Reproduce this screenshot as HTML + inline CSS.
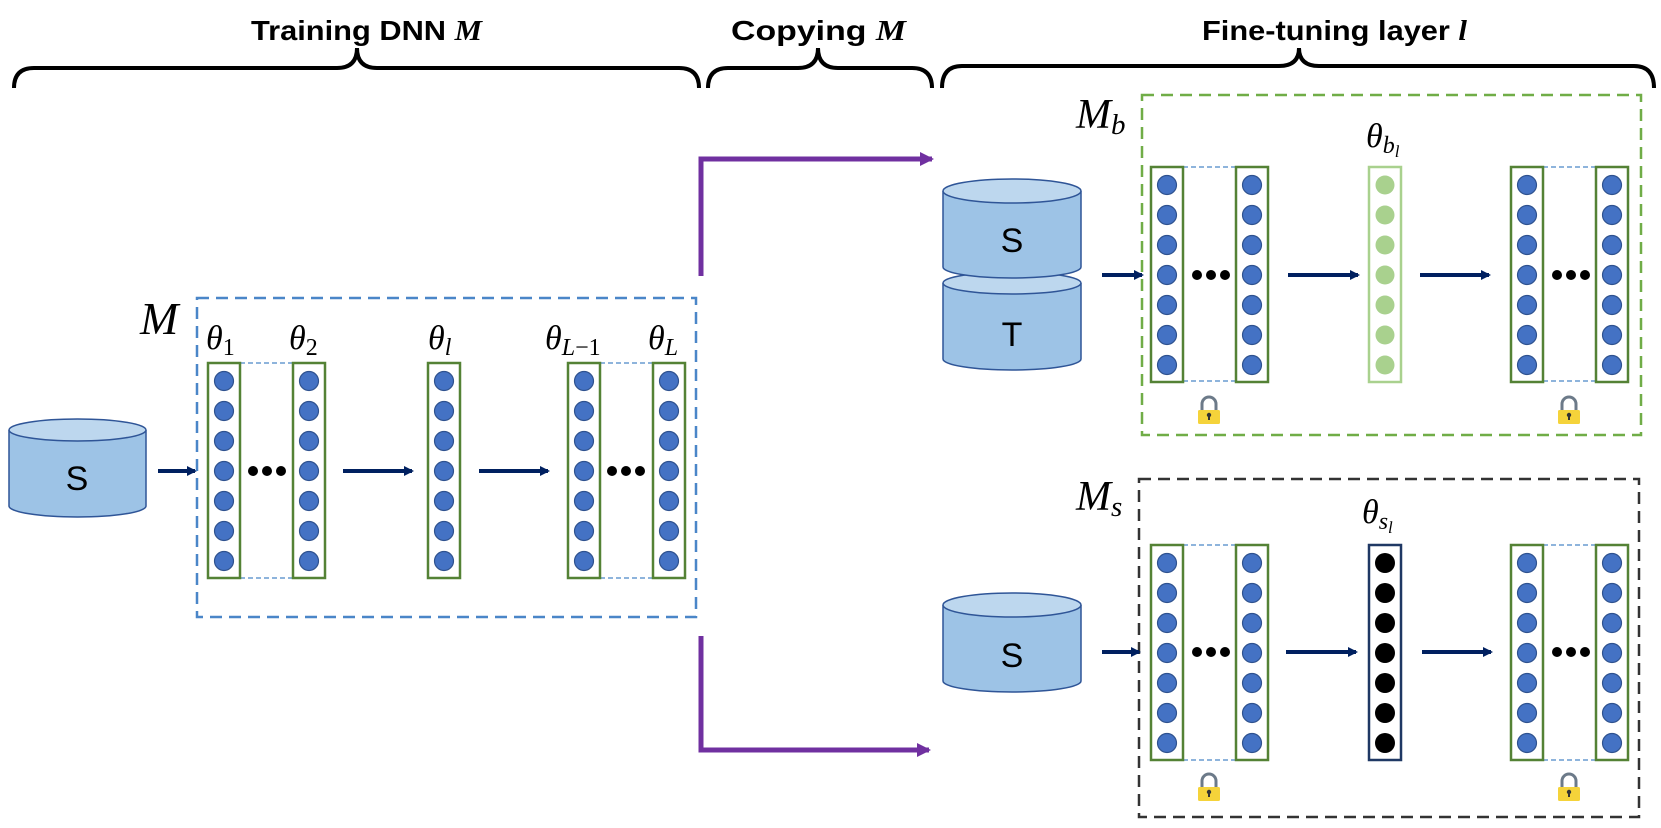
<!DOCTYPE html>
<html><head><meta charset="utf-8"><style>
html,body{margin:0;padding:0;background:#fff;}
svg{display:block;}
.t{font-family:"Liberation Sans",sans-serif;font-weight:bold;font-size:28px;fill:#000;}
.m{font-family:"Liberation Serif",serif;font-style:italic;fill:#000;}
.u{font-style:normal;}
.cyl{font-family:"Liberation Sans",sans-serif;font-size:34px;fill:#000;}
</style></head><body>
<svg width="1661" height="828" viewBox="0 0 1661 828" xmlns="http://www.w3.org/2000/svg">
<defs>
<g id="b7" fill="#4472C4" stroke="#2F528F" stroke-width="1.2">
<circle cx="16" cy="18" r="9.5"/><circle cx="16" cy="48" r="9.5"/><circle cx="16" cy="78" r="9.5"/><circle cx="16" cy="108" r="9.5"/><circle cx="16" cy="138" r="9.5"/><circle cx="16" cy="168" r="9.5"/><circle cx="16" cy="198" r="9.5"/>
</g>
<g id="g7" fill="#A9D18E">
<circle cx="16" cy="18" r="9.5"/><circle cx="16" cy="48" r="9.5"/><circle cx="16" cy="78" r="9.5"/><circle cx="16" cy="108" r="9.5"/><circle cx="16" cy="138" r="9.5"/><circle cx="16" cy="168" r="9.5"/><circle cx="16" cy="198" r="9.5"/>
</g>
<g id="k7" fill="#000">
<circle cx="16" cy="18" r="10"/><circle cx="16" cy="48" r="10"/><circle cx="16" cy="78" r="10"/><circle cx="16" cy="108" r="10"/><circle cx="16" cy="138" r="10"/><circle cx="16" cy="168" r="10"/><circle cx="16" cy="198" r="10"/>
</g>
<g id="col">
<rect x="0" y="0" width="32" height="215" fill="#fff" stroke="#548235" stroke-width="2.5"/>
<use href="#b7"/>
</g>
<g id="dots" fill="#000"><circle cx="0" cy="0" r="5"/><circle cx="14" cy="0" r="5"/><circle cx="28" cy="0" r="5"/></g>
<marker id="ah" markerWidth="10" markerHeight="10" refX="8" refY="5" orient="auto" markerUnits="userSpaceOnUse"><path d="M0,0 L10,5 L0,10 z" fill="#002060"/></marker>
<marker id="ahp" markerWidth="14" markerHeight="14" refX="12" refY="7" orient="auto" markerUnits="userSpaceOnUse"><path d="M0,0 L14,7 L0,14 z" fill="#7030A0"/></marker>
<g id="lock">
<path d="M-7,0 V-6 A7,7 0 0 1 7,-6 V0" fill="none" stroke="#6C7A89" stroke-width="3"/>
<rect x="-11" y="0" width="22" height="14" rx="1.5" fill="#F5D33A"/>
<circle cx="0" cy="5" r="2.2" fill="#333"/><rect x="-1" y="5" width="2" height="5" fill="#333"/>
</g>
</defs>

<!-- Titles -->
<text class="t" x="251" y="40" textLength="231" lengthAdjust="spacingAndGlyphs">Training DNN <tspan class="m" style="font-weight:bold">M</tspan></text>
<text class="t" x="731" y="40" textLength="175" lengthAdjust="spacingAndGlyphs">Copying <tspan class="m" style="font-weight:bold">M</tspan></text>
<text class="t" x="1202" y="40" textLength="265" lengthAdjust="spacingAndGlyphs">Fine-tuning layer <tspan class="m" style="font-weight:bold">l</tspan></text>

<!-- Braces -->
<g fill="none" stroke="#000" stroke-width="4">
<path d="M14,88 Q14,68 34,68 L337,68 Q357,68 357,48 Q357,68 377,68 L679,68 Q699,68 699,88"/>
<path d="M708,88 Q708,68 728,68 L798,68 Q818,68 818,48 Q818,68 838,68 L912,68 Q932,68 932,88"/>
<path d="M942,88 Q942,66 962,66 L1279,66 Q1299,66 1299,48 Q1299,66 1319,66 L1634,66 Q1654,66 1654,88"/>
</g>

<!-- Purple connectors -->
<g fill="none" stroke="#7030A0" stroke-width="5">
<path d="M701,276 V159 H932" marker-end="url(#ahp)"/>
<path d="M701,636 V750 H929" marker-end="url(#ahp)"/>
</g>

<!-- Left cylinder -->
<g stroke="#2F5597" stroke-width="1.5">
<path d="M9,430 V506 A68.5,11 0 0 0 146,506 V430" fill="#9DC3E6"/>
<ellipse cx="77.5" cy="430" rx="68.5" ry="11" fill="#BDD7EE"/>
</g>
<text class="cyl" x="77" y="490" text-anchor="middle">S</text>
<line x1="158" y1="471" x2="195" y2="471" stroke="#002060" stroke-width="4" marker-end="url(#ah)"/>

<!-- M box -->
<rect x="197" y="298" width="499" height="319" fill="none" stroke="#4A86C8" stroke-width="2.5" stroke-dasharray="12,7"/>
<text class="m" x="140" y="334" font-size="46">M</text>
<g class="m" font-size="34">
<text x="206" y="349">θ<tspan class="u" font-size="24" dy="6">1</tspan></text>
<text x="289" y="349">θ<tspan class="u" font-size="24" dy="6">2</tspan></text>
<text x="428" y="349">θ<tspan font-size="24" dy="6">l</tspan></text>
<text x="545" y="349">θ<tspan font-size="24" dy="6">L</tspan><tspan class="u" font-size="24">−1</tspan></text>
<text x="648" y="349">θ<tspan font-size="24" dy="6">L</tspan></text>
</g>
<g stroke="#4A86C8" stroke-width="1.3" stroke-dasharray="5,3">
<line x1="240" y1="363" x2="292" y2="363"/><line x1="240" y1="578" x2="292" y2="578"/>
<line x1="600" y1="363" x2="653" y2="363"/><line x1="600" y1="578" x2="653" y2="578"/>
</g>
<use href="#col" x="208" y="363"/>
<use href="#col" x="293" y="363"/>
<use href="#col" x="428" y="363"/>
<use href="#col" x="568" y="363"/>
<use href="#col" x="653" y="363"/>
<use href="#dots" x="253" y="471"/>
<use href="#dots" x="612" y="471"/>
<g stroke="#002060" stroke-width="4">
<line x1="343" y1="471" x2="412" y2="471" marker-end="url(#ah)"/>
<line x1="479" y1="471" x2="548" y2="471" marker-end="url(#ah)"/>
</g>

<!-- Top right: S/T cylinders -->
<g stroke="#2F5597" stroke-width="1.5">
<path d="M943,283 V359 A69,11 0 0 0 1081,359 V283" fill="#9DC3E6"/>
<ellipse cx="1012" cy="283" rx="69" ry="11" fill="#BDD7EE"/>
<path d="M943,191 V267 A69,11 0 0 0 1081,267 V191" fill="#9DC3E6"/>
<ellipse cx="1012" cy="191" rx="69" ry="12" fill="#BDD7EE"/>
</g>
<text class="cyl" x="1012" y="252" text-anchor="middle">S</text>
<text class="cyl" x="1012" y="346" text-anchor="middle">T</text>

<!-- Mb box -->
<rect x="1142" y="95" width="499" height="340" fill="none" stroke="#70AD47" stroke-width="2.5" stroke-dasharray="12,7"/>
<text class="m" x="1076" y="128" font-size="42">M<tspan font-size="29" dy="6">b</tspan></text>
<text class="m" x="1366" y="147" font-size="34">θ<tspan font-size="24" dy="6">b</tspan><tspan font-size="17" dy="4">l</tspan></text>
<g stroke="#4A86C8" stroke-width="1.3" stroke-dasharray="5,3">
<line x1="1183" y1="167" x2="1236" y2="167"/><line x1="1183" y1="381" x2="1236" y2="381"/>
<line x1="1543" y1="167" x2="1596" y2="167"/><line x1="1543" y1="381" x2="1596" y2="381"/>
</g>
<use href="#col" x="1151" y="167"/>
<use href="#col" x="1236" y="167"/>
<rect x="1369" y="167" width="32" height="215" fill="#fff" stroke="#A9D18E" stroke-width="2.5"/>
<use href="#g7" x="1369" y="167"/>
<use href="#col" x="1511" y="167"/>
<use href="#col" x="1596" y="167"/>
<use href="#dots" x="1197" y="275"/>
<use href="#dots" x="1557" y="275"/>
<g stroke="#002060" stroke-width="4">
<line x1="1102" y1="275" x2="1142" y2="275" marker-end="url(#ah)"/>
<line x1="1288" y1="275" x2="1358" y2="275" marker-end="url(#ah)"/>
<line x1="1420" y1="275" x2="1489" y2="275" marker-end="url(#ah)"/>
</g>
<use href="#lock" x="1209" y="410"/>
<use href="#lock" x="1569" y="410"/>

<!-- Bottom: S cylinder -->
<g stroke="#2F5597" stroke-width="1.5">
<path d="M943,605 V681 A69,11 0 0 0 1081,681 V605" fill="#9DC3E6"/>
<ellipse cx="1012" cy="605" rx="69" ry="12" fill="#BDD7EE"/>
</g>
<text class="cyl" x="1012" y="667" text-anchor="middle">S</text>

<!-- Ms box -->
<rect x="1139" y="479" width="500" height="338" fill="none" stroke="#333" stroke-width="2.5" stroke-dasharray="12,7"/>
<text class="m" x="1076" y="510" font-size="42">M<tspan font-size="29" dy="6">s</tspan></text>
<text class="m" x="1362" y="523" font-size="34">θ<tspan font-size="24" dy="6">s</tspan><tspan font-size="17" dy="4">l</tspan></text>
<g stroke="#4A86C8" stroke-width="1.3" stroke-dasharray="5,3">
<line x1="1183" y1="545" x2="1236" y2="545"/><line x1="1183" y1="760" x2="1236" y2="760"/>
<line x1="1543" y1="545" x2="1596" y2="545"/><line x1="1543" y1="760" x2="1596" y2="760"/>
</g>
<use href="#col" x="1151" y="545"/>
<use href="#col" x="1236" y="545"/>
<rect x="1369" y="545" width="32" height="215" fill="#fff" stroke="#1F3864" stroke-width="2.5"/>
<use href="#k7" x="1369" y="545"/>
<use href="#col" x="1511" y="545"/>
<use href="#col" x="1596" y="545"/>
<use href="#dots" x="1197" y="652"/>
<use href="#dots" x="1557" y="652"/>
<g stroke="#002060" stroke-width="4">
<line x1="1102" y1="652" x2="1139" y2="652" marker-end="url(#ah)"/>
<line x1="1286" y1="652" x2="1356" y2="652" marker-end="url(#ah)"/>
<line x1="1422" y1="652" x2="1491" y2="652" marker-end="url(#ah)"/>
</g>
<use href="#lock" x="1209" y="787"/>
<use href="#lock" x="1569" y="787"/>
</svg>
</body></html>
